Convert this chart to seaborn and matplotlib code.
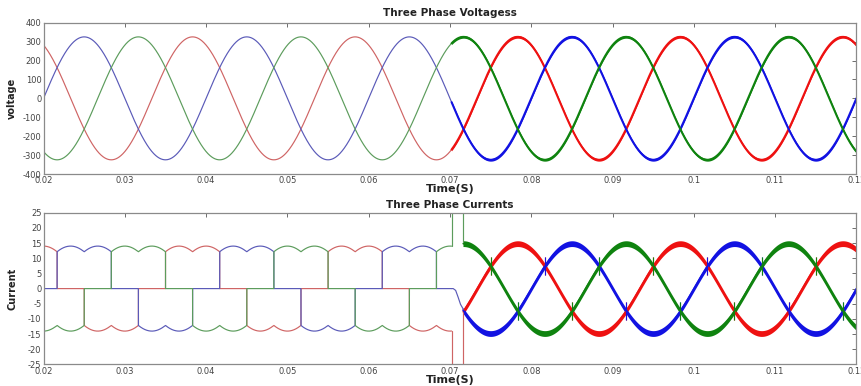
import numpy as np
import pandas as pd
import matplotlib
matplotlib.use("Agg")
import matplotlib.pyplot as plt
import seaborn as sns
from matplotlib.ticker import MultipleLocator, FuncFormatter

# ---- waveform parameters ----
phase_names = ["Phase A", "Phase B", "Phase C"]
phase_shift_deg = [120.0, 0.0, -120.0]          # A leads B, C lags B
line_freq = 50.0                                 # Hz
v_peak = 325.0                                   # V
i_rect_peak = 14.0                               # peak of six-pulse rectifier current (A)
i_grid_peak = 14.8                               # peak of sinusoidal current after switching (A)
v_noise_band = 7.0                               # half width of switching ripple on voltages
i_noise_band = 0.95                              # half width of switching ripple on currents
crossing_spike = 3.0                             # height of commutation spikes at crossings

t_start, t_switch, t_recover, t_end = 0.02, 0.0702, 0.0716, 0.12

# transient right after the switching instant
trans_a = [-14.0, -40.0, -40.0]
trans_c = [14.0, 40.0, 40.0]
trans_b_t = [0.0704, 0.0707, 0.0710, 0.0713, 0.0716]
trans_b = [0.0, -0.6, -2.8, -5.2, -6.6]

colors_pre = ["#cf6464", "#5a5ab8", "#5c9c5c"]
colors_post = ["#ee1111", "#1212e2", "#0f830f"]

# ---- build the signals ----
dt = 2e-6
t_pre = np.arange(t_start, t_switch + dt / 2, dt)
t_post_v = np.arange(t_switch, t_end + dt / 2, dt)
t_post_i = np.arange(t_recover, t_end + dt / 2, dt)

omega = 2 * np.pi * line_freq
shifts = np.deg2rad(phase_shift_deg)


def volts(t):
    return np.array([v_peak * np.sin(omega * t + s) for s in shifts])


def rect_current(t):
    v = volts(t)
    vmax, vmin = v.max(axis=0), v.min(axis=0)
    idc = i_rect_peak * (vmax - vmin) / (np.sqrt(3) * v_peak)
    hi, lo = v.argmax(axis=0), v.argmin(axis=0)
    out = np.zeros_like(v)
    for k in range(3):
        out[k] = np.where(hi == k, idc, np.where(lo == k, -idc, 0.0))
    return out


def grid_current(t):
    return np.array([i_grid_peak * np.sin(omega * t + s) for s in shifts])


def long_frame(t, values):
    return pd.DataFrame({
        "time": np.tile(t, 3),
        "value": np.concatenate(values),
        "phase": np.repeat(phase_names, len(t)),
    })


v_pre = volts(t_pre)
v_post = volts(t_post_v)
i_pre = rect_current(t_pre)
i_post = grid_current(t_post_i)

# ---- figure ----
sns.set_theme(style="white")
plt.rcParams["font.family"] = ["DejaVu Sans"]
plt.rcParams["axes.unicode_minus"] = False

fig = plt.figure(figsize=(8.62, 3.86), dpi=100)
fig.patch.set_facecolor("white")
ax_v = fig.add_axes([0.0505, 0.5492, 0.943, 0.392])
ax_i = fig.add_axes([0.0505, 0.0557, 0.943, 0.3933])

pal_pre = dict(zip(phase_names, colors_pre))
pal_post = dict(zip(phase_names, colors_post))

# voltages
sns.lineplot(data=long_frame(t_pre, v_pre), x="time", y="value", hue="phase",
             palette=pal_pre, estimator=None, sort=False, lw=0.85,
             legend=False, ax=ax_v)
for k in range(3):
    ax_v.fill_between(t_post_v, v_post[k] - v_noise_band, v_post[k] + v_noise_band,
                      color=colors_post[k], lw=0)
sns.lineplot(data=long_frame(t_post_v, v_post), x="time", y="value", hue="phase",
             palette=pal_post, estimator=None, sort=False, lw=1.5,
             legend=False, ax=ax_v)

# currents: rectifier stage
sns.lineplot(data=long_frame(t_pre, i_pre), x="time", y="value", hue="phase",
             palette=pal_pre, estimator=None, sort=False, lw=0.85,
             legend=False, ax=ax_i)

# switching transient
start_vals = grid_current(np.array([t_recover]))[:, 0]
ax_i.plot([t_switch, t_switch, t_recover, t_recover], trans_a + [start_vals[0]],
          color=colors_pre[0], lw=0.85)
ax_i.plot([t_switch, t_switch, t_recover, t_recover], trans_c + [start_vals[2]],
          color=colors_pre[2], lw=0.85)
ax_i.plot([t_switch] + trans_b_t + [t_recover], [0.0] + trans_b + [start_vals[1]],
          color=colors_pre[1], lw=0.85)

# currents: sinusoidal stage with switching ripple
for k in range(3):
    ax_i.fill_between(t_post_i, i_post[k] - i_noise_band, i_post[k] + i_noise_band,
                      color=colors_post[k], lw=0)
sns.lineplot(data=long_frame(t_post_i, i_post), x="time", y="value", hue="phase",
             palette=pal_post, estimator=None, sort=False, lw=0.9,
             legend=False, ax=ax_i)

# commutation spikes where two phase currents cross
period = 1.0 / line_freq
for k in range(3):
    for ang in (30, 150, 210, 330):
        base = (np.deg2rad(ang) - shifts[k]) / omega
        for n in range(-2, 10):
            tc = base + n * period
            if t_recover + 0.0003 < tc < t_end:
                yc_val = i_grid_peak * np.sin(omega * tc + shifts[k])
                ax_i.vlines(tc, yc_val - crossing_spike, yc_val + crossing_spike,
                            color=colors_post[k], lw=0.8)

# ---- axes styling ----
fmt_x = FuncFormatter(lambda x, p: f"{x:g}")
for ax, (lo, hi), step in ((ax_v, (-400, 400), 100), (ax_i, (-25, 25), 5)):
    ax.set_xlim(t_start, t_end)
    ax.set_ylim(lo, hi)
    ax.xaxis.set_major_locator(MultipleLocator(0.01))
    ax.xaxis.set_major_formatter(fmt_x)
    ax.yaxis.set_major_locator(MultipleLocator(step))
    ax.set_xlabel("")
    ax.set_ylabel("")
    ax.tick_params(direction="in", length=3, width=0.6, color="#555555",
                   labelsize=6, labelcolor="#444444", top=True, right=True,
                   pad=1.5)
    for sp in ax.spines.values():
        sp.set_visible(True)
        sp.set_color("#8a8a8a")
        sp.set_linewidth(0.9)
    ax.set_facecolor("white")

fig.text(0.522, 0.966, "Three Phase Voltagess", ha="center", va="center",
         fontsize=7.5, fontweight="bold", color="#222222")
fig.text(0.522, 0.510, "Time(S)", ha="center", va="center",
         fontsize=8, fontweight="bold", color="#222222")
fig.text(0.522, 0.469, "Three Phase Currents", ha="center", va="center",
         fontsize=7.5, fontweight="bold", color="#222222")
fig.text(0.522, 0.016, "Time(S)", ha="center", va="center",
         fontsize=8, fontweight="bold", color="#222222")
fig.text(0.014, 0.745, "voltage", ha="center", va="center", rotation=90,
         fontsize=7, fontweight="bold", color="#222222",
         family=["Liberation Sans Narrow", "DejaVu Sans"])
fig.text(0.014, 0.252, "Current", ha="center", va="center", rotation=90,
         fontsize=7, fontweight="bold", color="#222222",
         family=["Liberation Sans Narrow", "DejaVu Sans"])

fig.savefig("out.png", dpi=100, facecolor="white")
